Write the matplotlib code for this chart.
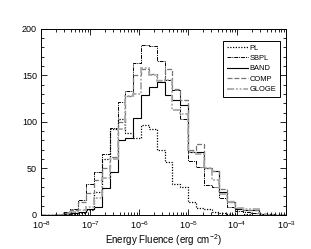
import numpy as np
import matplotlib
matplotlib.use('Agg')
import matplotlib.pyplot as plt
from matplotlib.ticker import MultipleLocator, LogLocator, NullFormatter

plt.rcParams['font.family'] = ['Liberation Sans', 'DejaVu Sans']
plt.rcParams['mathtext.fontset'] = 'custom'
plt.rcParams['mathtext.rm'] = 'Liberation Sans'
plt.rcParams['mathtext.it'] = 'Liberation Sans:italic'

# bin edges: log10 steps of 0.16 dex, one edge at 1e-5
log_edges = -5 + 0.16 * np.arange(-19, 14)
edges = 10 ** log_edges

# counts per bin (32 bins)
pl = [0, 0, 0, 0, 1, 2, 5, 25, 60, 92, 103, 88, 83, 97, 92, 70,
      57, 33, 30, 14, 7, 6, 3, 2, 1, 0, 1, 0, 0, 0, 0, 0]
sbpl = [0, 0, 1, 3, 6, 16, 33, 46, 65, 93, 121, 133, 163, 183, 182, 166,
        145, 134, 103, 58, 52, 32, 30, 18, 9, 4, 3, 2, 1, 0, 0, 0]
band = [0, 0, 0, 1, 2, 3, 6, 9, 29, 46, 81, 83, 104, 129, 137, 143,
        129, 123, 118, 68, 68, 50, 47, 25, 14, 6, 5, 5, 1, 1, 0, 0]
comp = [0, 0, 0, 2, 5, 14, 24, 38, 50, 62, 100, 128, 150, 157, 152, 145,
        157, 135, 124, 70, 76, 50, 47, 28, 15, 7, 5, 5, 1, 0, 0, 0]
gloge = [0, 0, 0, 1, 3, 5, 8, 18, 40, 60, 92, 128, 130, 158, 150, 144,
         145, 113, 108, 68, 65, 50, 38, 22, 14, 7, 6, 6, 1, 0, 0, 0]

fig = plt.figure(figsize=(3.11, 2.49), dpi=100)
ax = fig.add_axes([0.132, 0.137, 0.788, 0.747])

ax.stairs(pl, edges, color='black', linestyle=(0, (1, 1.2)), lw=0.9, label='PL')
ax.stairs(sbpl, edges, color='black', linestyle=(0, (4, 1, 1, 1)), lw=0.7, label='SBPL')
ax.stairs(band, edges, color='black', linestyle='-', lw=0.8, label='BAND')
ax.stairs(comp, edges, color='#777777', linestyle=(0, (4, 1.5)), lw=0.9, label='COMP')
ax.stairs(gloge, edges, color='#aaaaaa', linestyle=(0, (4, 1, 1, 1, 1, 1)), lw=1.3, label='GLOGE')

ax.set_xscale('log')
ax.set_xlim(1e-8, 1e-3)
ax.set_ylim(0, 200)
ax.yaxis.set_major_locator(MultipleLocator(50))
ax.yaxis.set_minor_locator(MultipleLocator(10))
ax.xaxis.set_major_locator(LogLocator(base=10, numticks=10))
ax.xaxis.set_minor_locator(LogLocator(base=10, subs=np.arange(2, 10), numticks=20))
ax.xaxis.set_minor_formatter(NullFormatter())

ax.tick_params(which='both', direction='in', top=True, right=True, labelsize=6.5, width=0.6)
ax.tick_params(axis='x', pad=3.2)
ax.tick_params(axis='y', pad=3)
ax.tick_params(which='major', length=4)
ax.tick_params(which='minor', length=2)
for s in ax.spines.values():
    s.set_linewidth(0.7)

ax.set_xlabel('Energy Fluence (erg cm$^{-2}$)', fontsize=7, labelpad=0.5)

leg = ax.legend(loc='upper right', fontsize=5.4, handlelength=2.8, handletextpad=0.3,
                borderpad=0.45, labelspacing=0.42, fancybox=False, framealpha=1,
                edgecolor='black', bbox_to_anchor=(0.99, 0.955))
leg.get_frame().set_linewidth(0.7)

fig.savefig('out.png', dpi=100)
